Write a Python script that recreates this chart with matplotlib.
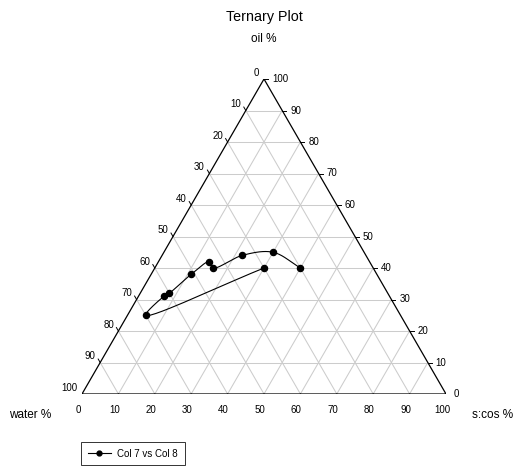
import numpy as np
import matplotlib
matplotlib.use('Agg')
import matplotlib.pyplot as plt

# (percent)
scos = [30, 5, 7, 8, 11, 14, 16, 22, 30, 40]
oil = [40, 25, 31, 32, 38, 42, 40, 44, 45, 40]
water = [30, 70, 62, 60, 51, 44, 44, 34, 25, 20]
ticks = list(range(0, 101, 10))
series_label = 'Col 7 vs Col 8'

plt.rcParams['font.family'] = ['Liberation Sans', 'DejaVu Sans']

W, H = 514, 468
h = np.sqrt(3) / 2
k = 100 / 364.0  # data units per pixel


def tern(s, o):
    s = np.asarray(s, float)
    o = np.asarray(o, float)
    return s + o / 2, o * h


def spline(xs, ys, n=30, alpha=0.5):
    # centripetal catmull-rom through the points
    p = np.column_stack([xs, ys])
    p = np.vstack([2 * p[0] - p[1], p, 2 * p[-1] - p[-2]])
    out = []
    for i in range(1, len(p) - 2):
        p0, p1, p2, p3 = p[i - 1], p[i], p[i + 1], p[i + 2]
        t0 = 0
        t1 = t0 + np.linalg.norm(p1 - p0) ** alpha
        t2 = t1 + np.linalg.norm(p2 - p1) ** alpha
        t3 = t2 + np.linalg.norm(p3 - p2) ** alpha
        t = np.linspace(t1, t2, n)[:, None]
        a1 = (t1 - t) / (t1 - t0) * p0 + (t - t0) / (t1 - t0) * p1
        a2 = (t2 - t) / (t2 - t1) * p1 + (t - t1) / (t2 - t1) * p2
        a3 = (t3 - t) / (t3 - t2) * p2 + (t - t2) / (t3 - t2) * p3
        b1 = (t2 - t) / (t2 - t0) * a1 + (t - t0) / (t2 - t0) * a2
        b2 = (t3 - t) / (t3 - t1) * a2 + (t - t1) / (t3 - t1) * a3
        c = (t2 - t) / (t2 - t1) * b1 + (t - t1) / (t2 - t1) * b2
        out.append(c)
    out = np.vstack(out)
    return out[:, 0], out[:, 1]


fig = plt.figure(figsize=(W / 100, H / 100), dpi=100)
ax = fig.add_axes([82 / W, 74 / H, 364 / W, 315 / H])
ax.set_xlim(0, 100)
ax.set_ylim(0, 100 * h)
ax.axis('off')

# grid
gc = '#cccccc'
for v in ticks[1:-1]:
    x, y = tern([0, 100 - v], [v, v])
    ax.plot(x, y, color=gc, lw=0.75, zorder=1)
    x, y = tern([v, v], [0, 100 - v])
    ax.plot(x, y, color=gc, lw=0.75, zorder=1)
    x, y = tern([100 - v, 0], [0, 100 - v])
    ax.plot(x, y, color=gc, lw=0.75, zorder=1)

# frame
x, y = tern([0, 100, 0, 0], [0, 0, 100, 0])
ax.plot(x, y, color='black', lw=0.9, zorder=2, solid_joinstyle='miter')

tl = 4 * k
fs = 7
for v in ticks:
    # water, left side
    x, y = tern(0, 100 - v)
    ax.plot([x, x - 0.5 * tl], [y, y + h * tl], color='black', lw=0.7)
    ax.text(x - 4.5 * k, y + 6.5 * k, str(v), ha='right', va='center', fontsize=fs)
    # oil, right side
    x, y = tern(100 - v, v)
    ax.plot([x, x + tl], [y, y], color='black', lw=0.7)
    ax.text(x + 8 * k, y, str(v), ha='left', va='center', fontsize=fs)
    # s:cos, bottom
    x, y = tern(v, 0)
    ax.plot([x, x - 0.5 * tl], [y, y - h * tl], color='black', lw=0.7)
    ax.text(x - 4 * k, y - 16.5 * k, str(v), ha='center', va='center', fontsize=fs)

# data
tot = np.array(scos) + np.array(oil) + np.array(water)
px, py = tern(np.array(scos) / tot * 100, np.array(oil) / tot * 100)
sx, sy = spline(px, py)
ax.plot(sx, sy, color='black', lw=0.8, zorder=3)
ax.plot(px, py, 'o', color='black', ms=4.4, zorder=4)

# titles
fig.text(264 / W, 1 - 21 / H, 'Ternary Plot', ha='center', va='baseline', fontsize=10.3)
fig.text(264 / W, 1 - 42.5 / H, 'oil %', ha='center', va='baseline', fontsize=8.5)
fig.text(30.5 / W, 1 - 418 / H, 'water %', ha='center', va='baseline', fontsize=8.5)
fig.text(492.5 / W, 1 - 418 / H, 's:cos %', ha='center', va='baseline', fontsize=8.5)

# legend
handle = plt.Line2D([], [], color='black', lw=0.8, marker='o', ms=3.5)
leg = fig.legend([handle], [series_label], loc='upper left',
                 bbox_to_anchor=(81 / W, 1 - 441.7 / H), borderaxespad=0,
                 fontsize=fs, frameon=True, fancybox=False, edgecolor='black',
                 handlelength=2.35, handletextpad=0.7, borderpad=0.7)
leg.get_frame().set_linewidth(0.7)

fig.savefig('out.png', dpi=100)
